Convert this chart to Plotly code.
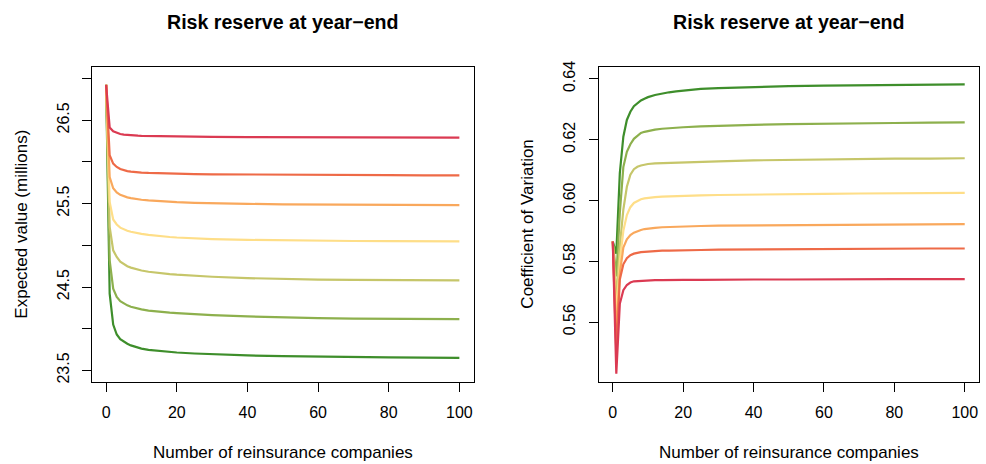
import plotly.graph_objects as go

# x positions (number of reinsurance companies) at which values were read
x_nodes = [0, 1, 2, 3, 4, 5, 6, 7, 8, 9, 10, 12, 14, 16, 18, 20, 25, 30, 40, 50, 60, 70, 80, 90, 100]

series_names = ["s7", "s6", "s5", "s4", "s3", "s2", "s1"]
colors = ["#3E8E2B", "#8DB04D", "#C6C66A", "#FEDE88", "#F9A85C", "#EE6A47", "#DB3A52"]

# Left panel: expected value (millions)
ev_dgreen = [26.925, 24.42, 24.05, 23.93, 23.875, 23.845, 23.82, 23.80, 23.785, 23.772, 23.762, 23.747, 23.737, 23.728, 23.721, 23.715, 23.703, 23.694, 23.680, 23.670, 23.663, 23.659, 23.656, 23.653, 23.651]
ev_green = [26.925, 24.82, 24.48, 24.38, 24.33, 24.30, 24.28, 24.263, 24.25, 24.24, 24.232, 24.218, 24.207, 24.199, 24.192, 24.186, 24.174, 24.163, 24.147, 24.135, 24.127, 24.122, 24.119, 24.117, 24.115]
ev_ygreen = [26.925, 25.22, 24.94, 24.86, 24.805, 24.772, 24.75, 24.733, 24.72, 24.708, 24.698, 24.683, 24.671, 24.662, 24.655, 24.648, 24.634, 24.623, 24.607, 24.596, 24.589, 24.585, 24.582, 24.580, 24.579]
ev_yellow = [26.925, 25.52, 25.31, 25.25, 25.212, 25.19, 25.175, 25.163, 25.153, 25.144, 25.137, 25.125, 25.115, 25.107, 25.10, 25.094, 25.083, 25.075, 25.065, 25.058, 25.054, 25.052, 25.05, 25.049, 25.048]
ev_orange = [26.925, 25.82, 25.685, 25.634, 25.605, 25.587, 25.575, 25.566, 25.558, 25.552, 25.547, 25.539, 25.532, 25.527, 25.522, 25.518, 25.51, 25.504, 25.497, 25.492, 25.489, 25.486, 25.484, 25.482, 25.481]
ev_ored = [26.925, 26.08, 25.98, 25.94, 25.915, 25.90, 25.89, 25.884, 25.879, 25.876, 25.873, 25.869, 25.866, 25.863, 25.861, 25.859, 25.855, 25.852, 25.848, 25.846, 25.844, 25.842, 25.841, 25.840, 25.839]
ev_red = [26.925, 26.414, 26.367, 26.347, 26.335, 26.327, 26.322, 26.319, 26.317, 26.315, 26.313, 26.311, 26.309, 26.307, 26.306, 26.305, 26.302, 26.30, 26.297, 26.295, 26.294, 26.293, 26.292, 26.292, 26.291]

# Right panel: coefficient of variation
cv_dgreen = [0.5865, 0.5825, 0.609, 0.621, 0.6265, 0.6292, 0.631, 0.6321, 0.6329, 0.6335, 0.634, 0.6347, 0.6352, 0.6356, 0.6359, 0.6362, 0.6367, 0.637, 0.6374, 0.6376, 0.6378, 0.6379, 0.638, 0.6381, 0.6382]
cv_green = [0.5865, 0.575, 0.596, 0.611, 0.616, 0.6185, 0.6203, 0.6214, 0.6222, 0.6226, 0.6229, 0.6233, 0.6236, 0.6238, 0.624, 0.6241, 0.6244, 0.6246, 0.6249, 0.6251, 0.6253, 0.6254, 0.6255, 0.6256, 0.6257]
cv_ygreen = [0.5865, 0.568, 0.585, 0.597, 0.6045, 0.6085, 0.6103, 0.6111, 0.6115, 0.6118, 0.612, 0.6122, 0.6123, 0.6124, 0.6125, 0.6126, 0.6128, 0.6129, 0.6132, 0.6134, 0.6136, 0.6137, 0.6138, 0.6138, 0.6139]
cv_yellow = [0.5865, 0.562, 0.580, 0.590, 0.5952, 0.5978, 0.5992, 0.5999, 0.6004, 0.6007, 0.6009, 0.6011, 0.6013, 0.6014, 0.6015, 0.6016, 0.6017, 0.6018, 0.602, 0.6021, 0.6022, 0.6023, 0.6024, 0.6024, 0.6025]
cv_orange = [0.5865, 0.556, 0.576, 0.5845, 0.5872, 0.5886, 0.5894, 0.5899, 0.5903, 0.5906, 0.5908, 0.591, 0.5912, 0.5913, 0.5914, 0.5915, 0.5916, 0.5917, 0.5918, 0.5919, 0.592, 0.592, 0.5921, 0.5921, 0.5922]
cv_ored = [0.5865, 0.550, 0.574, 0.579, 0.581, 0.582, 0.5825, 0.5828, 0.583, 0.5831, 0.5832, 0.5834, 0.5835, 0.5835, 0.5836, 0.5836, 0.5837, 0.5838, 0.5839, 0.584, 0.584, 0.5841, 0.5841, 0.5842, 0.5842]
cv_red = [0.5865, 0.543, 0.566, 0.5705, 0.5722, 0.573, 0.5734, 0.5735, 0.5736, 0.5737, 0.5737, 0.5738, 0.5738, 0.5739, 0.5739, 0.5739, 0.5739, 0.574, 0.574, 0.574, 0.5741, 0.5741, 0.5741, 0.5741, 0.5741]

ev_series = [ev_dgreen, ev_green, ev_ygreen, ev_yellow, ev_orange, ev_ored, ev_red]
cv_series = [cv_dgreen, cv_green, cv_ygreen, cv_yellow, cv_orange, cv_ored, cv_red]

title_text = "Risk reserve at year\u2212end"
xlabel = "Number of reinsurance companies"
ylabel_left = "Expected value (millions)"
ylabel_right = "Coefficient of Variation"

x_ticks = [0, 20, 40, 60, 80, 100]
yl_ticks = [23.5, 24.0, 24.5, 25.0, 25.5, 26.0, 26.5, 27.0]
yl_text = ["23.5", "", "24.5", "", "25.5", "", "26.5", ""]
yr_ticks = [0.56, 0.58, 0.60, 0.62, 0.64]
yr_text = ["0.56", "0.58", "0.60", "0.62", "0.64"]

W, H = 986, 464
FONT = "Liberation Sans, Arial, Helvetica, sans-serif"

fig = go.Figure()
for name, c, ys in zip(series_names, colors, ev_series):
    fig.add_trace(go.Scatter(x=x_nodes, y=ys, mode="lines", line=dict(color=c, width=2.2),
                             xaxis="x", yaxis="y", showlegend=False, name=name))
for name, c, ys in zip(series_names, colors, cv_series):
    fig.add_trace(go.Scatter(x=x_nodes, y=ys, mode="lines", line=dict(color=c, width=2.2),
                             xaxis="x2", yaxis="y2", showlegend=False, name=name))

# plot boxes in pixels
L1, R1 = 92, 473.5
L2, R2 = 598.7, 978.8
TOP, BOT = 62, 382

def px(v):
    return v / W

def py(v):
    return 1 - v / H

axis_common = dict(showline=True, mirror=True, linecolor="black", linewidth=1,
                   ticks="outside", ticklen=9, tickcolor="black", tickwidth=1,
                   showgrid=False, zeroline=False, ticklabelstandoff=7,
                   tickfont=dict(family=FONT, size=16, color="black"))

fig.update_layout(
    width=W, height=H,
    margin=dict(l=0, r=0, t=0, b=0),
    paper_bgcolor="white", plot_bgcolor="white",
    xaxis=dict(domain=[px(L1), px(R1)], range=[-4, 104], tickvals=x_ticks, anchor="y", **axis_common),
    yaxis=dict(domain=[py(BOT), py(TOP)], range=[23.358, 27.138], tickvals=yl_ticks, ticktext=yl_text,
               tickangle=-90, anchor="x", **axis_common),
    xaxis2=dict(domain=[px(L2), px(R2)], range=[-4, 104], tickvals=x_ticks, anchor="y2", **axis_common),
    yaxis2=dict(domain=[py(BOT), py(TOP)], range=[0.5402, 0.6439], tickvals=yr_ticks, ticktext=yr_text,
                tickangle=-90, anchor="x2", **axis_common),
)

ann = []
for cx in [(L1 + R1) / 2, (L2 + R2) / 2]:
    ann.append(dict(text="<b>" + title_text + "</b>", x=px(cx), y=py(16), xref="paper", yref="paper",
                    showarrow=False, xanchor="center", yanchor="middle",
                    font=dict(family=FONT, size=19.6, color="black")))
    ann.append(dict(text=xlabel, x=px(cx), y=py(453), xref="paper", yref="paper",
                    showarrow=False, xanchor="center", yanchor="middle",
                    font=dict(family=FONT, size=17, color="black")))
ann.append(dict(text=ylabel_left, x=px(22), y=py((TOP + BOT) / 2), xref="paper", yref="paper",
                showarrow=False, xanchor="center", yanchor="middle", textangle=-90,
                font=dict(family=FONT, size=17, color="black")))
ann.append(dict(text=ylabel_right, x=px(528), y=py((TOP + BOT) / 2), xref="paper", yref="paper",
                showarrow=False, xanchor="center", yanchor="middle", textangle=-90,
                font=dict(family=FONT, size=17, color="black")))
fig.update_layout(annotations=ann)

fig.write_html("out.html")
